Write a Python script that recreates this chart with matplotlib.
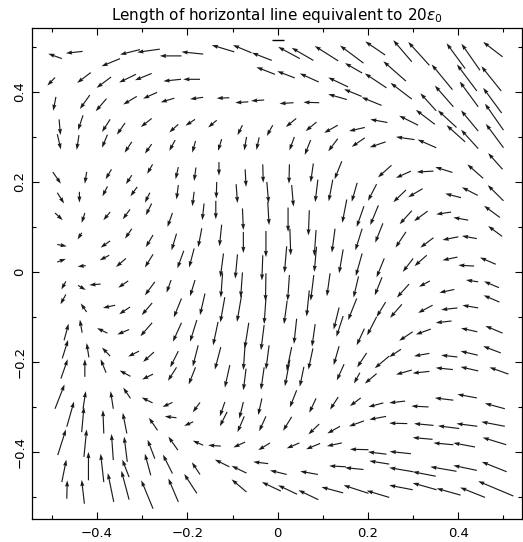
import matplotlib
matplotlib.use("Agg")
import matplotlib.pyplot as plt
from matplotlib.ticker import MultipleLocator, FuncFormatter

# Source positions (x, y) and ellipticity vectors (u, v), in field units
x = [
    -0.478, -0.432, -0.305, -0.261, -0.213, -0.165, -0.349,
    -0.493, -0.414, -0.369, -0.314, -0.279, -0.214, -0.172,
    -0.491, -0.416, -0.379, -0.312, -0.267, -0.229, -0.165,
    -0.484, -0.431, -0.371, -0.338, -0.279, -0.220, -0.183,
    -0.488, -0.440, -0.377, -0.323, -0.279, -0.227, -0.182,
    -0.096, -0.058, -0.013, 0.049, 0.079, 0.134, 0.190,
    -0.006, 0.038, 0.091, 0.156, 0.187,
    -0.107, -0.065, -0.030, 0.035, 0.092, 0.153, 0.186,
    -0.135, -0.078, -0.011, 0.041, 0.086, 0.133, 0.193,
    -0.124, -0.069, -0.041, 0.037, 0.073, 0.133, 0.193,
    0.238, 0.297, 0.336, 0.415, 0.448, 0.498,
    0.241, 0.284, 0.297, 0.387, 0.441, 0.495,
    0.389, 0.230, 0.351, 0.396, 0.444, 0.496, 0.500, 0.444,
    0.243, 0.311, 0.348, 0.415, 0.444, 0.500,
    0.239, 0.303, 0.351, 0.498,
    -0.498, -0.423, -0.368, -0.323, -0.277, -0.220, -0.181,
    -0.488, -0.439, -0.377, -0.311, -0.283, -0.220, -0.185,
    -0.493, -0.427, -0.371, -0.327, -0.279, -0.233,
    -0.434, -0.488, -0.371, -0.323, -0.276, -0.224,
    -0.488, -0.425, -0.373, -0.336, -0.276, -0.208, -0.185,
    -0.130, -0.072, -0.033, 0.026, 0.079, 0.142,
    -0.135, -0.092, -0.024, 0.031, 0.089, 0.122, 0.176,
    -0.163, -0.137, -0.078, -0.022, 0.023, 0.070, 0.153,
    -0.168, -0.124, -0.076, -0.026, 0.027, 0.085, 0.127,
    -0.120, -0.089, -0.033, 0.020, 0.086, 0.145,
    0.252, 0.295, 0.345, 0.387, 0.455,
    0.219, 0.284, 0.321, 0.406, 0.443, 0.500,
    0.191, 0.223, 0.297, 0.332, 0.384, 0.422, 0.492,
    0.187, 0.233, 0.284, 0.345, 0.400, 0.441, 0.497,
    0.187, 0.236, 0.300, 0.330, 0.398, 0.435, 0.483,
    -0.469, -0.442, -0.392, -0.331, -0.272, -0.236, -0.183,
    -0.469, -0.423, -0.360, -0.327, -0.278, -0.213,
    -0.473, -0.433, -0.377, -0.329, -0.278, -0.213, -0.179,
    -0.477, -0.418, -0.371, -0.307, -0.274, -0.220, -0.176,
    -0.480, -0.427, -0.380, -0.326, -0.276, -0.224, -0.182,
    -0.493, -0.431, -0.364, -0.326, -0.277, -0.233,
    -0.122, -0.078, -0.026, 0.026, 0.080, 0.116, 0.179,
    -0.161, -0.117, -0.080, -0.026, 0.021, 0.070, 0.136, 0.175,
    -0.132, -0.064, -0.030, 0.042, 0.083, 0.145,
    -0.126, -0.072, -0.019, 0.031, 0.078, 0.136,
    -0.106, -0.070, -0.030, 0.027, 0.058, 0.147, 0.182,
    -0.172, -0.117, -0.076, -0.035, 0.042, 0.085, 0.134, 0.184,
    0.231, 0.291, 0.337, 0.391, 0.444, 0.490,
    0.239, 0.275, 0.343, 0.398, 0.444, 0.491,
    0.192, 0.219, 0.299, 0.339, 0.385, 0.442, 0.498,
    0.197, 0.247, 0.273, 0.336, 0.398, 0.443, 0.494,
    0.219, 0.297, 0.336, 0.388, 0.444, 0.511,
    0.234, 0.282, 0.334, 0.389, 0.441, 0.503,
    -0.467, -0.434, -0.385, -0.334, -0.266, -0.224, -0.187,
    -0.487, -0.429, -0.364, -0.333, -0.272, -0.221, -0.165,
    -0.478, -0.419, -0.385, -0.329, -0.281, -0.233, -0.172,
    -0.467, -0.428, -0.363, -0.329, -0.276, -0.220, -0.179,
    -0.112, -0.074, -0.026, 0.031, 0.092, 0.138, 0.191, 0.240, 0.287, 0.345, 0.402, 0.442, 0.503,
    -0.126, -0.072, -0.017, 0.048, 0.094, 0.142, 0.201, 0.241, 0.295, 0.343, 0.389, 0.437, 0.506,
    -0.107, -0.069, -0.021, 0.020, 0.089, 0.151, 0.190, 0.247, 0.300, 0.350, 0.396, 0.441, 0.507,
    -0.069, 0.007, 0.043, 0.090, 0.145, 0.201, 0.247, 0.299, 0.352, 0.405, 0.459, 0.522,
]

y = [
    0.474, 0.490, 0.494, 0.495, 0.480, 0.484, 0.474,
    0.432, 0.443, 0.433, 0.439, 0.441, 0.428, 0.428,
    0.389, 0.393, 0.385, 0.390, 0.399, 0.386, 0.388,
    0.339, 0.348, 0.339, 0.331, 0.341, 0.328, 0.339,
    0.306, 0.304, 0.305, 0.289, 0.284, 0.293, 0.291,
    0.489, 0.487, 0.470, 0.474, 0.470, 0.469, 0.464,
    0.439, 0.431, 0.422, 0.411, 0.442,
    0.387, 0.378, 0.382, 0.376, 0.376, 0.383, 0.390,
    0.337, 0.326, 0.326, 0.341, 0.333, 0.326, 0.321,
    0.295, 0.300, 0.299, 0.300, 0.293, 0.296, 0.298,
    0.482, 0.467, 0.459, 0.452, 0.448, 0.478,
    0.409, 0.424, 0.384, 0.405, 0.402, 0.402,
    0.367, 0.370, 0.358, 0.321, 0.367, 0.353, 0.315, 0.313,
    0.332, 0.326, 0.328, 0.289, 0.274, 0.276,
    0.289, 0.294, 0.276, 0.228,
    0.222, 0.222, 0.228, 0.215, 0.239, 0.233, 0.232,
    0.176, 0.178, 0.190, 0.189, 0.176, 0.193, 0.178,
    0.131, 0.131, 0.133, 0.139, 0.152, 0.131,
    0.087, 0.061, 0.069, 0.096, 0.082, 0.085,
    0.022, 0.014, 0.037, 0.030, 0.039, 0.047, 0.052,
    0.244, 0.228, 0.239, 0.239, 0.241, 0.246,
    0.200, 0.195, 0.200, 0.193, 0.205, 0.205, 0.198,
    0.152, 0.158, 0.141, 0.156, 0.143, 0.137, 0.161,
    0.097, 0.105, 0.089, 0.091, 0.096, 0.093, 0.096,
    0.041, 0.039, 0.037, 0.057, 0.056, 0.050,
    0.237, 0.224, 0.224, 0.221, 0.208,
    0.195, 0.182, 0.185, 0.165, 0.170, 0.158,
    0.146, 0.148, 0.136, 0.135, 0.133, 0.115, 0.121,
    0.096, 0.108, 0.089, 0.076, 0.078, 0.074, 0.079,
    0.041, 0.030, 0.030, 0.037, 0.033, 0.013, 0.017,
    -0.021, -0.030, -0.027, -0.020, -0.022, -0.018, -0.018,
    -0.050, -0.089, -0.074, -0.078, -0.069, -0.059,
    -0.152, -0.135, -0.136, -0.128, -0.113, -0.113, -0.107,
    -0.192, -0.190, -0.187, -0.176, -0.178, -0.176, -0.163,
    -0.237, -0.233, -0.224, -0.232, -0.227, -0.212, -0.212,
    -0.304, -0.304, -0.304, -0.281, -0.291, -0.290,
    -0.003, -0.001, -0.003, -0.007, -0.007, -0.003, -0.010,
    -0.048, -0.056, -0.052, -0.059, -0.064, -0.041, -0.079, -0.059,
    -0.111, -0.113, -0.118, -0.104, -0.116, -0.098,
    -0.167, -0.159, -0.163, -0.167, -0.170, -0.165,
    -0.207, -0.215, -0.212, -0.195, -0.211, -0.205, -0.224,
    -0.290, -0.289, -0.289, -0.281, -0.263, -0.281, -0.278, -0.280,
    -0.012, -0.027, -0.020, -0.039, -0.022, -0.035,
    -0.067, -0.072, -0.074, -0.080, -0.080, -0.067,
    -0.126, -0.100, -0.133, -0.127, -0.109, -0.133, -0.136,
    -0.180, -0.187, -0.172, -0.181, -0.189, -0.185, -0.180,
    -0.226, -0.218, -0.221, -0.217, -0.220, -0.227,
    -0.291, -0.287, -0.300, -0.285, -0.280, -0.304,
    -0.344, -0.356, -0.359, -0.359, -0.352, -0.324, -0.333,
    -0.407, -0.411, -0.418, -0.422, -0.415, -0.396, -0.385,
    -0.467, -0.463, -0.467, -0.456, -0.452, -0.448, -0.450,
    -0.504, -0.515, -0.511, -0.506, -0.526, -0.511, -0.492,
    -0.311, -0.321, -0.321, -0.322, -0.338, -0.343, -0.331, -0.321, -0.337, -0.341, -0.348, -0.343, -0.343,
    -0.387, -0.378, -0.380, -0.380, -0.381, -0.380, -0.395, -0.405, -0.404, -0.372, -0.384, -0.389, -0.384,
    -0.433, -0.447, -0.426, -0.450, -0.450, -0.433, -0.439, -0.427, -0.444, -0.454, -0.443, -0.441, -0.444,
    -0.489, -0.487, -0.494, -0.506, -0.491, -0.492, -0.501, -0.484, -0.484, -0.496, -0.501, -0.498,
]

u = [
    -0.030, -0.037, -0.044, -0.050, -0.048, -0.048, -0.041,
    -0.017, -0.030, -0.032, -0.037, -0.037, -0.039, -0.037,
    -0.006, -0.022, -0.024, -0.030, -0.031, -0.030, -0.029,
    0.003, -0.011, -0.018, -0.018, -0.024, -0.020, -0.021,
    0.008, -0.005, -0.012, -0.016, -0.015, -0.013, -0.007,
    -0.050, -0.041, -0.044, -0.048, -0.048, -0.052, -0.052,
    -0.041, -0.039, -0.042, -0.044, -0.038,
    -0.028, -0.029, -0.029, -0.031, -0.035, -0.041, -0.039,
    -0.019, -0.011, -0.013, -0.023, -0.024, -0.030, -0.035,
    -0.008, -0.005, -0.006, -0.011, -0.013, -0.021, -0.029,
    -0.044, -0.041, -0.047, -0.041, -0.041, -0.043,
    -0.048, -0.050, -0.047, -0.046, -0.044, -0.044,
    -0.041, -0.044, -0.035, -0.041, -0.041, -0.041, -0.041, -0.038,
    -0.038, -0.042, -0.042, -0.041, -0.038, -0.039,
    -0.035, -0.041, -0.041, -0.032,
    0.018, -0.004, -0.013, -0.013, -0.012, -0.006, -0.004,
    0.015, 0.000, -0.011, -0.015, -0.011, -0.004, -0.004,
    0.017, -0.007, -0.015, -0.016, -0.013, -0.011,
    -0.009, 0.021, -0.021, -0.015, -0.016, -0.011,
    0.019, -0.018, -0.021, -0.022, -0.018, -0.014, -0.011,
    0.000, 0.002, 0.001, -0.001, -0.006, -0.016,
    -0.001, 0.003, 0.004, 0.004, -0.006, -0.009, -0.012,
    -0.004, 0.000, 0.002, 0.003, 0.000, -0.002, -0.010,
    -0.008, -0.005, 0.000, 0.000, 0.002, -0.004, -0.007,
    -0.007, -0.005, -0.002, -0.005, -0.005, -0.009,
    -0.030, -0.033, -0.037, -0.038, -0.035,
    -0.019, -0.028, -0.032, -0.035, -0.035, -0.035,
    -0.016, -0.018, -0.027, -0.030, -0.033, -0.033, -0.035,
    -0.015, -0.017, -0.023, -0.029, -0.035, -0.033, -0.031,
    -0.014, -0.017, -0.023, -0.027, -0.033, -0.035, -0.035,
    -0.010, 0.017, -0.025, -0.022, -0.022, -0.010, -0.011,
    -0.012, -0.013, -0.027, -0.024, -0.023, -0.017,
    0.010, -0.005, -0.023, -0.026, -0.026, -0.019, -0.015,
    0.013, -0.005, -0.018, -0.024, -0.024, -0.018, -0.012,
    0.015, 0.000, -0.012, -0.024, -0.024, -0.019, -0.015,
    0.021, 0.006, -0.006, -0.016, -0.024, -0.022,
    -0.004, -0.004, -0.001, -0.004, -0.007, -0.007, -0.011,
    -0.011, -0.010, -0.010, -0.004, -0.007, -0.006, -0.012, -0.019,
    -0.011, -0.009, -0.007, -0.006, -0.007, -0.015,
    -0.013, -0.004, -0.007, -0.011, -0.010, -0.012,
    -0.011, -0.006, -0.007, -0.011, -0.009, -0.016, -0.013,
    -0.016, -0.011, -0.009, -0.008, -0.015, -0.015, -0.018, -0.024,
    -0.016, -0.027, -0.024, -0.033, -0.027, -0.033,
    -0.020, -0.026, -0.032, -0.036, -0.035, -0.035,
    -0.017, -0.021, -0.030, -0.033, -0.035, -0.036, -0.038,
    -0.021, -0.032, -0.026, -0.034, -0.036, -0.038, -0.039,
    -0.026, -0.035, -0.037, -0.038, -0.039, -0.042,
    -0.033, -0.035, -0.038, -0.041, -0.043, -0.044,
    0.016, 0.005, -0.002, -0.009, -0.019, -0.026, -0.020,
    0.018, 0.006, -0.004, -0.007, -0.016, -0.021, -0.023,
    0.010, 0.000, -0.007, -0.015, -0.013, -0.021, -0.018,
    0.001, -0.006, -0.013, -0.017, -0.026, -0.022, -0.028,
    -0.016, -0.015, -0.015, -0.019, -0.024, -0.028, -0.033, -0.037, -0.040, -0.043, -0.047, -0.046, -0.052,
    -0.028, -0.026, -0.026, -0.028, -0.031, -0.033, -0.041, -0.041, -0.047, -0.044, -0.044, -0.048, -0.052,
    -0.032, -0.033, -0.033, -0.037, -0.039, -0.037, -0.041, -0.044, -0.053, -0.051, -0.058, -0.052, -0.055,
    -0.033, -0.042, -0.042, -0.044, -0.048, -0.055, -0.050, -0.052, -0.053, -0.053, -0.055, -0.078,
]

v = [
    0.011, -0.004, -0.011, -0.007, 0.000, 0.005, -0.017,
    -0.018, -0.023, -0.024, -0.018, -0.015, -0.004, 0.000,
    -0.031, -0.031, -0.028, -0.018, -0.014, -0.009, -0.004,
    -0.035, -0.033, -0.028, -0.026, -0.019, -0.018, -0.014,
    -0.034, -0.033, -0.029, -0.024, -0.021, -0.024, -0.026,
    0.015, 0.017, 0.017, 0.026, 0.028, 0.033, 0.039,
    0.016, 0.015, 0.019, 0.021, 0.022,
    -0.001, -0.002, -0.002, -0.002, 0.001, 0.012, 0.016,
    -0.016, -0.022, -0.024, -0.019, -0.020, -0.017, -0.008,
    -0.026, -0.030, -0.028, -0.030, -0.033, -0.028, -0.020,
    0.030, 0.048, 0.052, 0.056, 0.059, 0.033,
    0.032, 0.044, 0.036, 0.056, 0.059, 0.055,
    0.047, 0.018, 0.039, 0.038, 0.056, 0.056, 0.059, 0.046,
    0.007, 0.021, 0.032, 0.037, 0.042, 0.053,
    -0.012, 0.006, 0.018, 0.036,
    -0.026, -0.026, -0.022, -0.020, -0.021, -0.027, -0.030,
    -0.024, -0.024, -0.022, -0.021, -0.022, -0.032, -0.032,
    -0.016, -0.022, -0.018, -0.022, -0.026, -0.031,
    -0.015, -0.004, -0.015, -0.022, -0.027, -0.037,
    0.007, -0.002, -0.011, -0.019, -0.029, -0.039, -0.042,
    -0.030, -0.039, -0.041, -0.043, -0.042, -0.040,
    -0.037, -0.042, -0.047, -0.048, -0.050, -0.048, -0.042,
    -0.037, -0.041, -0.048, -0.052, -0.054, -0.056, -0.052,
    -0.042, -0.048, -0.047, -0.058, -0.059, -0.058, -0.053,
    -0.053, -0.054, -0.056, -0.059, -0.056, -0.053,
    -0.027, -0.015, -0.002, 0.012, 0.031,
    -0.037, -0.027, -0.019, 0.009, 0.018, 0.035,
    -0.046, -0.044, -0.030, -0.022, -0.005, 0.006, 0.026,
    -0.048, -0.043, -0.035, -0.022, -0.007, 0.006, 0.023,
    -0.050, -0.042, -0.030, -0.024, -0.007, 0.002, 0.015,
    -0.018, -0.010, -0.002, -0.015, -0.030, -0.028, -0.036,
    -0.022, 0.019, -0.006, -0.016, -0.027, -0.042,
    0.037, 0.029, 0.011, -0.011, -0.030, -0.042, -0.048,
    0.041, 0.032, 0.019, -0.012, -0.022, -0.036, -0.047,
    0.043, 0.039, 0.030, 0.013, -0.012, -0.030, -0.038,
    0.054, 0.039, 0.039, 0.024, 0.012, -0.010,
    -0.054, -0.056, -0.062, -0.057, -0.057, -0.051, -0.047,
    -0.048, -0.056, -0.059, -0.057, -0.052, -0.058, -0.049, -0.048,
    -0.052, -0.057, -0.056, -0.056, -0.050, -0.046,
    -0.050, -0.059, -0.054, -0.053, -0.047, -0.042,
    -0.050, -0.048, -0.050, -0.059, -0.044, -0.036, -0.024,
    -0.022, -0.032, -0.037, -0.037, -0.038, -0.032, -0.028, -0.018,
    -0.040, -0.030, -0.013, -0.007, 0.004, 0.014,
    -0.033, -0.030, -0.017, -0.004, 0.006, 0.015,
    -0.037, -0.041, -0.020, -0.012, -0.004, 0.008, 0.016,
    -0.032, -0.027, -0.017, -0.006, 0.004, 0.009, 0.015,
    -0.022, -0.010, -0.004, 0.004, 0.009, 0.015,
    -0.009, -0.004, 0.002, 0.005, 0.008, 0.012,
    0.056, 0.056, 0.052, 0.046, 0.028, 0.003, -0.009,
    0.057, 0.061, 0.058, 0.056, 0.042, 0.030, 0.010,
    0.050, 0.063, 0.063, 0.039, 0.048, 0.042, 0.027,
    0.041, 0.053, 0.064, 0.064, 0.063, 0.052, 0.043,
    -0.032, -0.035, -0.033, -0.031, -0.023, -0.016, -0.012, -0.007, 0.001, 0.004, 0.006, 0.006, 0.010,
    0.002, -0.012, -0.016, -0.012, -0.013, -0.007, 0.001, 0.005, 0.005, 0.004, 0.004, 0.009, 0.016,
    0.016, 0.016, 0.004, 0.009, 0.007, 0.002, 0.004, 0.007, 0.009, 0.010, 0.010, 0.011, 0.022,
    0.028, 0.020, 0.020, 0.021, 0.013, 0.018, 0.015, 0.010, 0.015, 0.015, 0.022, 0.033,
]

# Length of the reference bar (20 epsilon_0) in field units
ref_length = 0.026
ref_y = 0.515

major_ticks = 0.2
minor_ticks = 0.1


def tick_text(val, _pos):
    if abs(val) < 1e-9:
        return "0"
    return f"{val:.1f}".replace("-", "\u2212")


fig = plt.figure(figsize=(5.23, 5.42), dpi=100)
ax = fig.add_axes([32 / 523, 23 / 542, 490 / 523, 491 / 542])

ax.quiver(x, y, u, v, angles="xy", scale_units="xy", scale=1,
          units="dots", width=1.15, headwidth=3.6, headlength=5.5,
          headaxislength=5.0, color="#1a1a1a", pivot="tail")

ax.plot([-ref_length / 2, ref_length / 2], [ref_y, ref_y],
        color="black", lw=1.0, solid_capstyle="butt")

ax.set_xlim(-0.544, 0.541)
ax.set_ylim(-0.549, 0.542)

for axis in (ax.xaxis, ax.yaxis):
    axis.set_major_locator(MultipleLocator(major_ticks))
    axis.set_minor_locator(MultipleLocator(minor_ticks))
    axis.set_major_formatter(FuncFormatter(tick_text))

ax.tick_params(which="both", direction="in", top=True, right=True,
               width=0.8, labelsize=9.5, colors="black")
ax.tick_params(which="major", length=5)
ax.tick_params(which="minor", length=2.8)
ax.tick_params(axis="x", pad=6)
ax.tick_params(axis="y", pad=4)
for lbl in ax.get_yticklabels():
    lbl.set_rotation(90)
    lbl.set_va("center")

for sp in ax.spines.values():
    sp.set_linewidth(0.9)

ax.set_title("Length of horizontal line equivalent to 20$\\epsilon_0$",
             fontsize=11, pad=6)

fig.savefig("out.png", dpi=100)
